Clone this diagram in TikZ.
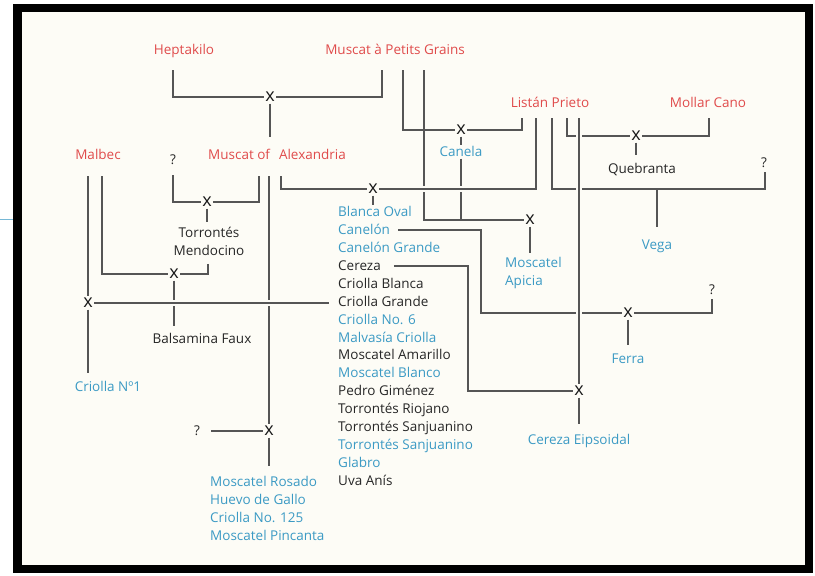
\documentclass[tikz,border=0pt]{standalone}
\usepackage{fontspec}
\setmainfont{Open Sans}
\definecolor{vinored}{HTML}{E04B4B}
\definecolor{vinoblue}{HTML}{3B9AC4}
\definecolor{inkgray}{HTML}{555555}
\definecolor{paper}{HTML}{FDFCF6}
\tikzset{
  lbl/.style={inner sep=0pt,text height=11pt,text depth=2pt,font=\fontsize{13.5}{17.9}\selectfont},
  multi/.style={inner sep=0pt,font=\fontsize{13.5}{17.9}\selectfont},
  parent/.style={text=vinored},
  synonym/.style={text=vinoblue},
  plain/.style={text=black!85},
  cross/.style={inner sep=1.5pt,font=\fontsize{18}{18}\selectfont,text=black!90},
  link/.style={draw=inkgray,line width=2pt},
  over/.style={preaction={draw=paper,line width=6pt}},
}
\begin{document}
\begin{tikzpicture}[x=1pt,y=-1pt]
	\useasboundingbox(0,0)rectangle(815,576);
	\fill[white](0,0)rectangle(815,576);
	\draw[line width=8.5pt,fill=paper](17.5,8)rectangle(809,569);
	\draw[vinoblue!70,line width=1pt](0,219)--(13,219);
	% parent varieties
	\node[lbl,parent](hept)at(184,50){Heptakilo};
	\node[lbl,parent](mpg)at(395,50){Muscat à Petits Grains};
	\node[lbl,parent](listan)at(550,103){Listán Prieto};
	\node[lbl,parent](mollar)at(708,103){Mollar Cano};
	\node[lbl,parent](malbec)at(98,155){Malbec};
	\node[lbl,parent](alex)at(277,155){Muscat of\hspace{9pt}Alexandria};
	\node[lbl,plain](q1)at(173,160){?};
	\node[lbl,plain](q2)at(764,163){?};
	\node[lbl,plain](q3)at(712,290){?};
	\node[lbl,plain](q4)at(197,431){?};
	% offspring
	\node[lbl,synonym](canela)at(461,152){Canela};
	\node[lbl,plain](quebr)at(642,169){Quebranta};
	\node[multi,plain,align=center,anchor=north](torr)at(209,227){Torrontés\\Mendocino};
	\node[multi,synonym,align=left,anchor=north west](mapi)at(505,257){Moscatel\\Apicia};
	\node[lbl,synonym](vega)at(657,245){Vega};
	\node[lbl,synonym](ferra)at(628,359){Ferra};
	\node[lbl,plain](balsa)at(202,339){Balsamina Faux};
	\node[lbl,synonym](cnr1)at(108,387){Criolla Nº1};
	\node[lbl,synonym](cerep)at(579,440){Cereza Eipsoidal};
	\node[multi,synonym,align=left,anchor=north west](mros)at(210,476){Moscatel Rosado\\Huevo de Gallo\\Criolla No. 125\\Moscatel Pincanta};
	% criollas
	\node[lbl,synonym,anchor=west](bov)at(338,212){Blanca Oval};
	\node[lbl,synonym,anchor=west](cnl)at(338,230){Canelón};
	\node[lbl,synonym,anchor=west](cng)at(338,248){Canelón Grande};
	\node[lbl,plain,anchor=west](crz)at(338,266){Cereza};
	\node[lbl,plain,anchor=west](cbl)at(338,284){Criolla Blanca};
	\node[lbl,plain,anchor=west](cgr)at(338,302){Criolla Grande};
	\node[lbl,synonym,anchor=west](cn6)at(338,320){Criolla No. 6};
	\node[lbl,synonym,anchor=west](mvc)at(338,338){Malvasía Criolla};
	\node[lbl,plain,anchor=west](mam)at(338,355){Moscatel Amarillo};
	\node[lbl,synonym,anchor=west](mbl)at(338,373){Moscatel Blanco};
	\node[lbl,plain,anchor=west](pgi)at(338,391){Pedro Giménez};
	\node[lbl,plain,anchor=west](tri)at(338,409){Torrontés Riojano};
	\node[lbl,plain,anchor=west](tsj)at(338,427){Torrontés Sanjuanino};
	\node[lbl,synonym,anchor=west](tsb)at(338,445){Torrontés Sanjuanino};
	\node[lbl,synonym,anchor=west](glb)at(338,463){Glabro};
	\node[lbl,plain,anchor=west](uva)at(338,481){Uva Anís};
	% crossings
	\node[cross](x1)at(270,97){x};
	\node[cross](x2)at(461,130){x};
	\node[cross](x3)at(636,136){x};
	\node[cross](x4)at(207,202){x};
	\node[cross](x5)at(373,189){x};
	\node[cross](x6)at(530,220){x};
	\node[cross](x7)at(174,274){x};
	\node[cross](x8)at(88,303){x};
	\node[cross](x9)at(628,313){x};
	\node[cross](x10)at(579,391){x};
	\node[cross](x11)at(269,431){x};
	\coordinate(vg)at(657,189);
	\coordinate(fk)at(481,313);
	\coordinate(ck)at(468,391);
	% Muscat of Alexandria
	\draw[link]([xshift=-11pt,yshift=-13.5pt]hept.south)|-(x1);
	\draw[link]([xshift=-13pt,yshift=-13.5pt]mpg.south)|-(x1);
	\draw[link](x1)--([yshift=11pt]x1|-alex.north);
	% Canela and Moscatel Apicia
	\draw[link]([xshift=8pt,yshift=-13.5pt]mpg.south)|-(x2);
	\draw[link]([xshift=-28pt,yshift=-8.5pt]listan.south)|-(x2);
	\draw[link](x2)--(canela);
	\draw[link]([xshift=29pt,yshift=-13.5pt]mpg.south)|-(x6);
	\draw[link](canela)--(canela|-x6);
	\draw[link](x6)--([yshift=4pt]x6|-mapi.north);
	% Quebranta
	\draw[link]([xshift=17pt,yshift=-8.5pt]listan.south)|-(x3);
	\draw[link]([xshift=1pt,yshift=-8.5pt]mollar.south)|-(x3);
	\draw[link](x3)--([yshift=7pt]x3|-quebr.north);
	% Vega
	\draw[link]([xshift=2pt,yshift=-8.5pt]listan.south)|-(vg)-|([xshift=1pt,yshift=-2.5pt]q2.south);
	\draw[link](vg)--([yshift=11.5pt]vega.north);
	% Torrontes Mendocino and Balsamina Faux
	\draw[link]([yshift=-8.5pt]q1.south)|-(x4);
	\draw[link]([xshift=-18pt,yshift=-14.5pt]alex.south)|-(x4);
	\draw[link](x4)--([yshift=5pt]x4|-torr.north);
	\draw[link]([xshift=4pt,yshift=-14.5pt]malbec.south)|-(x7);
	\draw[link]([xshift=-1pt,yshift=-8pt]torr.south)|-(x7);
	\draw[link](x7)--([yshift=6.5pt]x7|-balsa.north);
	% Moscatel Rosado
	\draw[link]([xshift=-8pt,yshift=-14.5pt]alex.south)--(x11);
	\draw[link,shorten <=11pt](q4)--(x11);
	\draw[link](x11)--([yshift=10pt]x11|-mros.north);
	% criollas
	\draw[link]([xshift=4pt,yshift=-14.5pt]alex.south)|-(x5);
	\draw[link,over](x5)-|([xshift=-14pt,yshift=-8.5pt]listan.south);
	\draw[link](x5)--(x5|-bov.north);
	% Criolla N1
	\draw[link]([xshift=-10pt,yshift=-14.5pt]malbec.south)--(x8);
	\draw[link,over](x8)--([xshift=-9pt]x8-|cgr.west);
	\draw[link](x8)--([yshift=7.5pt]x8|-cnr1.north);
	% Ferra
	\draw[link]([xshift=8pt]cnl.east)-|(fk)--(x9);
	\draw[link]([yshift=-2.5pt]q3.south)|-(x9);
	\draw[link](x9)--([yshift=7.5pt]x9|-ferra.north);
	% Cereza Eipsoidal
	\draw[link]([xshift=13pt]crz.east)-|(ck)--(x10);
	\draw[link,over]([xshift=29pt,yshift=-8.5pt]listan.south)--(x10);
	\draw[link](x10)--([yshift=9.5pt]x10|-cerep.north);
\end{tikzpicture}
\end{document}
